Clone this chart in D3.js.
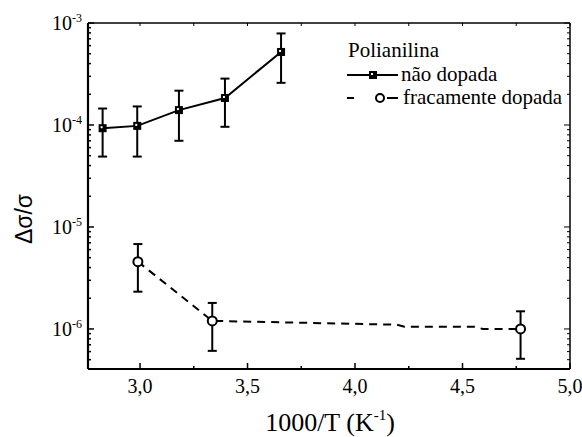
<!DOCTYPE html>
<html>
<head>
<meta charset="utf-8">
<script src="https://cdn.jsdelivr.net/npm/d3@7"></script>
<style>
  html, body { margin: 0; padding: 0; background: #fff; }
  svg { display: block; }
</style>
</head>
<body>
<svg id="chart" width="582" height="437"></svg>
<script>
// ---- data ----
const xTickValues = [3.0, 3.5, 4.0, 4.5, 5.0];
const xTickLabels = ["3,0", "3,5", "4,0", "4,5", "5,0"];
const yDecades = [1e-6, 1e-5, 1e-4, 1e-3];
const yDecadeExponents = ["-6", "-5", "-4", "-3"];

const naoX     = [2.826, 2.987, 3.181, 3.395, 3.656];
const naoY     = [9.3e-5, 9.8e-5, 1.40e-4, 1.84e-4, 5.2e-4];
const naoYHigh = [1.45e-4, 1.52e-4, 2.17e-4, 2.85e-4, 7.9e-4];
const naoYLow  = [4.9e-5, 4.9e-5, 7.0e-5, 9.6e-5, 2.59e-4];

const fracX     = [2.99, 3.336, 4.77];
const fracY     = [4.57e-6, 1.2e-6, 1.0e-6];
const fracYHigh = [6.8e-6, 1.8e-6, 1.49e-6];
const fracYLow  = [2.32e-6, 6.1e-7, 5.1e-7];
// dashed connecting line (includes unmarked intermediate vertices)
const fracLineX = [2.99, 3.336, 4.195, 4.23, 4.558, 4.595, 4.77];
const fracLineY = [4.57e-6, 1.2e-6, 1.10e-6, 1.05e-6, 1.05e-6, 1.0e-6, 1.0e-6];

const legendTitle = "Polianilina";
const seriesNames = ["não dopada", "fracamente dopada"];
const xTitle = "1000/T (K";
const yTitle = "Δσ/σ";

const SERIF = "'Liberation Serif', 'Times New Roman', serif";

// ---- layout ----
const svg = d3.select("#chart").style("font-family", SERIF);
const L = 88, R = 570, T = 23, B = 369;
const x = d3.scaleLinear().domain([2.758, 5.0]).range([L, R]);
const y = d3.scaleLog().domain([4.05e-7, 1e-3]).range([B, T]);

const g = svg.append("g");

const xMinor = d3.range(3.25, 5.0, 0.5);
const xTopTicks = d3.range(3.0, 5.001, 0.25);
const yMinor = [];
for (let e = -7; e <= -4; e++) for (let m = 2; m <= 9; m++) {
  const v = m * Math.pow(10, e);
  if (v >= 4.05e-7 && v <= 1e-3) yMinor.push(v);
}

const tickStroke = 1.5;
g.selectAll(".xmaj").data(xTickValues).join("line")
  .attr("x1", d => x(d)).attr("x2", d => x(d))
  .attr("y1", B).attr("y2", B - 6)
  .attr("stroke", "#000").attr("stroke-width", tickStroke);
g.selectAll(".xmin").data(xMinor).join("line")
  .attr("x1", d => x(d)).attr("x2", d => x(d))
  .attr("y1", B).attr("y2", B - 3)
  .attr("stroke", "#000").attr("stroke-width", tickStroke);
g.selectAll(".xtop").data(xTopTicks).join("line")
  .attr("x1", d => x(d)).attr("x2", d => x(d))
  .attr("y1", T).attr("y2", T + 3)
  .attr("stroke", "#000").attr("stroke-width", 1);
g.selectAll(".ymaj").data(yDecades).join("line")
  .attr("x1", L).attr("x2", L + 6)
  .attr("y1", d => y(d)).attr("y2", d => y(d))
  .attr("stroke", "#000").attr("stroke-width", tickStroke);
g.selectAll(".ymin").data(yMinor).join("line")
  .attr("x1", L).attr("x2", L + 3)
  .attr("y1", d => y(d)).attr("y2", d => y(d))
  .attr("stroke", "#000").attr("stroke-width", tickStroke);
g.selectAll(".ymajr").data(yDecades).join("line")
  .attr("x1", R).attr("x2", R - 6)
  .attr("y1", d => y(d)).attr("y2", d => y(d))
  .attr("stroke", "#000").attr("stroke-width", 1);
g.selectAll(".yminr").data(yMinor).join("line")
  .attr("x1", R).attr("x2", R - 3)
  .attr("y1", d => y(d)).attr("y2", d => y(d))
  .attr("stroke", "#000").attr("stroke-width", 1);

// frame
g.append("line").attr("x1", L).attr("x2", L).attr("y1", T).attr("y2", B)
  .attr("stroke", "#000").attr("stroke-width", 2.2);
g.append("line").attr("x1", L).attr("x2", R).attr("y1", B).attr("y2", B)
  .attr("stroke", "#000").attr("stroke-width", 2.2);
g.append("line").attr("x1", L).attr("x2", R).attr("y1", T).attr("y2", T)
  .attr("stroke", "#000").attr("stroke-width", 1.5);
g.append("line").attr("x1", R).attr("x2", R).attr("y1", T).attr("y2", B)
  .attr("stroke", "#000").attr("stroke-width", 1.5);

// x tick labels
g.selectAll(".xlab").data(xTickValues).join("text")
  .attr("x", d => x(d)).attr("y", B + 24)
  .attr("text-anchor", "middle").attr("font-size", 20)
  .text((d, i) => xTickLabels[i]);

// y tick labels 10^e
const yl = g.selectAll(".ylab").data(yDecades).join("text")
  .attr("x", L - 6).attr("y", d => y(d) + 7)
  .attr("text-anchor", "end").attr("font-size", 20);
yl.append("tspan").text("10");
yl.append("tspan").attr("font-size", 12).attr("dy", -8).text((d, i) => yDecadeExponents[i]);

// axis titles
const xt = g.append("text").attr("x", 330).attr("y", 431)
  .attr("text-anchor", "middle").attr("font-size", 26);
xt.append("tspan").text(xTitle);
xt.append("tspan").attr("font-size", 15).attr("dy", -11).text("-1");
xt.append("tspan").attr("dy", 11).text(")");

g.append("text").attr("transform", "translate(32,219) rotate(-90)")
  .attr("text-anchor", "middle").style("font-family", "'Liberation Sans', Arial, sans-serif")
  .attr("font-size", 23).text(yTitle);

// ---- series ----
const line = d3.line().x(d => x(d[0])).y(d => y(d[1]));

g.append("path").datum(naoX.map((v, i) => [v, naoY[i]]))
  .attr("d", line).attr("fill", "none").attr("stroke", "#000").attr("stroke-width", 2);
g.append("path").datum(fracLineX.map((v, i) => [v, fracLineY[i]]))
  .attr("d", line).attr("fill", "none").attr("stroke", "#000").attr("stroke-width", 2)
  .attr("stroke-dasharray", "8,6");

function errorBars(xs, lo, hi) {
  const eb = g.append("g");
  xs.forEach((xv, i) => {
    eb.append("line").attr("x1", x(xv)).attr("x2", x(xv))
      .attr("y1", y(lo[i])).attr("y2", y(hi[i]))
      .attr("stroke", "#000").attr("stroke-width", 2);
    [lo[i], hi[i]].forEach(v => {
      eb.append("line").attr("x1", x(xv) - 4.5).attr("x2", x(xv) + 4.5)
        .attr("y1", y(v)).attr("y2", y(v))
        .attr("stroke", "#000").attr("stroke-width", 2);
    });
  });
}
errorBars(naoX, naoYLow, naoYHigh);
errorBars(fracX, fracYLow, fracYHigh);

g.selectAll(".sq").data(naoX.map((v, i) => [v, naoY[i]])).join("rect")
  .attr("x", d => x(d[0]) - 4).attr("y", d => y(d[1]) - 4)
  .attr("width", 8).attr("height", 8).attr("fill", "#000");
g.selectAll(".sqh").data(naoX.map((v, i) => [v, naoY[i]])).join("rect")
  .attr("x", d => x(d[0]) - 2).attr("y", d => y(d[1]) - 2)
  .attr("width", 2).attr("height", 2).attr("fill", "#fff");
g.selectAll(".ci").data(fracX.map((v, i) => [v, fracY[i]])).join("circle")
  .attr("cx", d => x(d[0])).attr("cy", d => y(d[1])).attr("r", 4.5)
  .attr("fill", "#fff").attr("stroke", "#000").attr("stroke-width", 2);

// ---- legend ----
const lg = g.append("g");
lg.append("text").attr("x", 348).attr("y", 57).attr("font-size", 21).text(legendTitle);
lg.append("line").attr("x1", 347).attr("x2", 398).attr("y1", 75).attr("y2", 75)
  .attr("stroke", "#000").attr("stroke-width", 2);
lg.append("rect").attr("x", 369).attr("y", 71).attr("width", 8).attr("height", 8).attr("fill", "#000");
lg.append("rect").attr("x", 371).attr("y", 73).attr("width", 2).attr("height", 2).attr("fill", "#fff");
lg.append("text").attr("x", 401).attr("y", 81).attr("font-size", 21).text(seriesNames[0]);
lg.append("line").attr("x1", 347).attr("x2", 354).attr("y1", 98).attr("y2", 98)
  .attr("stroke", "#000").attr("stroke-width", 2);
lg.append("line").attr("x1", 387).attr("x2", 398).attr("y1", 98).attr("y2", 98)
  .attr("stroke", "#000").attr("stroke-width", 2);
lg.append("circle").attr("cx", 380).attr("cy", 98).attr("r", 4)
  .attr("fill", "#fff").attr("stroke", "#000").attr("stroke-width", 2);
lg.append("text").attr("x", 403).attr("y", 104).attr("font-size", 21).text(seriesNames[1]);
</script>
</body>
</html>
